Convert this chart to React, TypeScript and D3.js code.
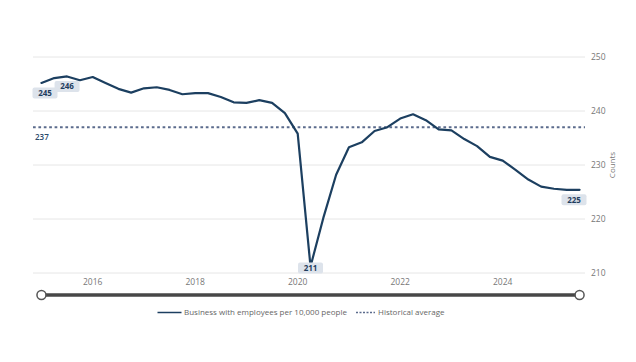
import React, { useEffect } from 'react'
import * as d3 from 'd3'

// quarterly observations, 2015 Q1 .. 2025 Q3
const startYear = 2015
const values = [
  245.2, 246.1, 246.4, 245.7, 246.3, 245.2, 244.1, 243.4,
  244.2, 244.4, 243.9, 243.1, 243.3, 243.3, 242.6, 241.6,
  241.5, 242.0, 241.5, 239.6, 235.8, 211.2, 220.2, 228.2,
  233.3, 234.2, 236.3, 237.0, 238.6, 239.4, 238.3, 236.6,
  236.4, 234.8, 233.5, 231.5, 230.8, 229.1, 227.3, 226.0,
  225.6, 225.4, 225.4,
]
const historicalAverage = 237
const yTicks = [210, 220, 230, 240, 250]
const xTicks = [2016, 2018, 2020, 2022, 2024]
const seriesName = 'Business with employees per 10,000 people'
const avgName = 'Historical average'

const W = 636
const H = 362
const FONT = '"Open Sans", "Noto Sans", sans-serif'
const LINE = '#1c3f60'
const AVG = '#5b6b8c'

export default function App() {
  useEffect(() => {
    document.body.style.margin = '0'
  }, [])

  const data = values.map((v, i) => ({ t: startYear + i / 4, v }))

  const x = d3.scaleLinear().domain([2015, 2016]).range([41.45, 92.7])
  const y = d3.scaleLinear().domain([210, 250]).range([273, 57])
  const gridL = 33
  const gridR = 585

  const line = d3.line<{ t: number; v: number }>()
    .x(d => x(d.t))
    .y(d => y(d.v))
    .curve(d3.curveLinear)

  // labelled points: first, max, min, last
  const maxI = d3.maxIndex(values)
  const minI = d3.minIndex(values)
  const labelled = [0, maxI, minI, values.length - 1]

  const xEnd = x(data[data.length - 1].t)

  return (
    <svg width={W} height={H} style={{ display: 'block', fontFamily: FONT }}>
      <rect width={W} height={H} fill="#fff" />

      {/* grid + right axis */}
      {yTicks.map(t => (
        <g key={t}>
          <line x1={gridL} x2={gridR} y1={y(t)} y2={y(t)} stroke="#e6e6e6" strokeWidth={1} />
          <text x={591} y={y(t)} dy="0.35em" fontSize={8.5} fill="#777">{t}</text>
        </g>
      ))}
      <text
        transform={`translate(615,${y(230)}) rotate(-90)`}
        textAnchor="middle"
        fontSize={8}
        fill="#777"
      >Counts</text>

      {/* x axis labels */}
      {xTicks.map(t => (
        <text key={t} x={x(t)} y={282.5} dy="0.35em" textAnchor="middle" fontSize={8.5} fill="#777">{t}</text>
      ))}

      {/* historical average */}
      <line
        x1={gridL} x2={gridR}
        y1={y(historicalAverage)} y2={y(historicalAverage)}
        stroke={AVG} strokeWidth={2} strokeDasharray="2.7,2.7"
      />
      <text x={35} y={y(historicalAverage) + 10} dy="0.35em" fontSize={8} fontWeight={600} fill="#2c4a6c">
        {historicalAverage}
      </text>

      {/* series */}
      <path d={line(data) || ''} fill="none" stroke={LINE} strokeWidth={2.2} strokeLinejoin="round" strokeLinecap="round" />

      {/* data labels */}
      {labelled.map(i => {
        const d = data[i]
        const cx = Math.max(45, Math.min(574, x(d.t)))
        const cy = Math.min(268, y(d.v) + 10)
        return (
          <g key={i}>
            <rect x={cx - 12.5} y={cy - 5.5} width={25} height={11} rx={2} fill="#dde3eb" />
            <text x={cx} y={cy} dy="0.36em" textAnchor="middle" fontSize={8} fontWeight={700} fill="#1f3d5e">
              {Math.round(d.v)}
            </text>
          </g>
        )
      })}

      {/* navigator / scrollbar */}
      <line x1={x(2015)} x2={xEnd} y1={295} y2={295} stroke="#474747" strokeWidth={3.5} />
      <circle cx={x(2015)} cy={295} r={4.5} fill="#fff" stroke="#555" strokeWidth={1.5} />
      <circle cx={xEnd} cy={295} r={4.5} fill="#fff" stroke="#555" strokeWidth={1.5} />

      {/* legend */}
      <line x1={157.5} x2={181.5} y1={312.5} y2={312.5} stroke={LINE} strokeWidth={1.5} />
      <text x={184} y={312.5} dy="0.35em" fontSize={8} fill="#666">{seriesName}</text>
      <line x1={356} x2={375} y1={312.5} y2={312.5} stroke={AVG} strokeWidth={1.5} strokeDasharray="2,1.5" />
      <text x={378} y={312.5} dy="0.35em" fontSize={8} fill="#666">{avgName}</text>
    </svg>
  )
}
